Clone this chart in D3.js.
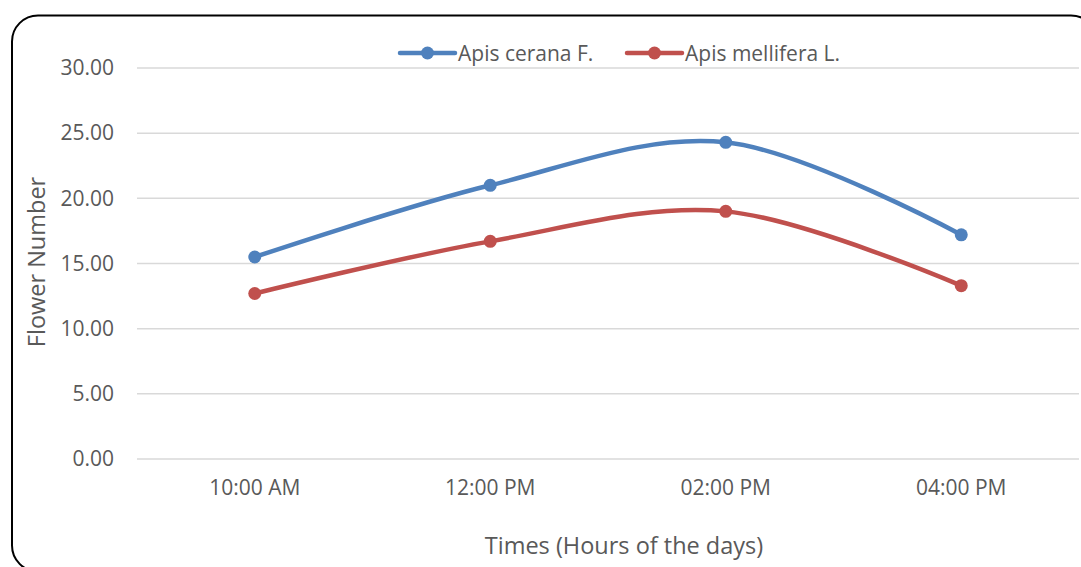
<!DOCTYPE html>
<html>
<head>
<meta charset="utf-8">
<script src="https://cdn.jsdelivr.net/npm/d3@7"></script>
<style>
  body { margin: 0; background: #fff; }
  svg { display: block; font-family: "Open Sans", sans-serif; }
</style>
</head>
<body>
<div id="chart"></div>
<script>
const times = ["10:00 AM", "12:00 PM", "02:00 PM", "04:00 PM"];
const ceranaValues = [15.5, 21.0, 24.3, 17.2];
const melliferaValues = [12.7, 16.7, 19.0, 13.3];
const yTicks = [0, 5, 10, 15, 20, 25, 30];
const seriesNames = ["Apis cerana F.", "Apis mellifera L."];
const seriesColors = ["#4f81bd", "#c0504d"];

const width = 1081, height = 567;
const margin = { left: 137, right: 2, top: 68, bottom: 108 };
const fontFam = "'Open Sans', sans-serif";

const svg = d3.select("#chart").append("svg")
    .attr("width", width)
    .attr("height", height);

/* chart border, cut off at right and bottom like the original */
svg.append("rect")
    .attr("x", 12).attr("y", 15.5)
    .attr("width", 1085).attr("height", 556)
    .attr("rx", 26)
    .attr("fill", "#fff")
    .attr("stroke", "#000")
    .attr("stroke-width", 2);

const x = d3.scaleBand()
    .domain(times)
    .range([margin.left, width - margin.right]);

const y = d3.scaleLinear()
    .domain([0, 30])
    .range([height - margin.bottom, margin.top]);

/* gridlines */
svg.append("g")
    .selectAll("line").data(yTicks).enter()
    .append("line")
    .attr("x1", margin.left)
    .attr("x2", width - margin.right)
    .attr("y1", d => y(d))
    .attr("y2", d => y(d))
    .attr("stroke", "#d9d9d9")
    .attr("stroke-width", 1.5);

/* y axis labels */
const yAxis = d3.axisLeft(y)
    .tickValues(yTicks)
    .tickFormat(d3.format(".2f"))
    .tickSize(0)
    .tickPadding(23);
const yAxisG = svg.append("g")
    .attr("transform", "translate(" + margin.left + ",0)")
    .call(yAxis);
yAxisG.select(".domain").remove();
yAxisG.selectAll("text")
    .attr("font-size", 21)
    .attr("font-family", fontFam)
    .attr("fill", "#595959");

/* x axis labels */
const xAxis = d3.axisBottom(x).tickSize(0).tickPadding(21);
const xAxisG = svg.append("g")
    .attr("transform", "translate(0," + y(0) + ")")
    .call(xAxis);
xAxisG.select(".domain").remove();
xAxisG.selectAll("text")
    .attr("font-size", 21)
    .attr("font-family", fontFam)
    .attr("fill", "#595959");

/* axis titles */
svg.append("text")
    .attr("x", 624).attr("y", 554)
    .attr("text-anchor", "middle")
    .attr("font-size", 23.5)
    .attr("fill", "#595959")
    .text("Times (Hours of the days)");
svg.append("text")
    .attr("transform", "translate(45,262) rotate(-90)")
    .attr("text-anchor", "middle")
    .attr("font-size", 23.5)
    .attr("fill", "#595959")
    .text("Flower Number");

/* series */
const series = [ceranaValues, melliferaValues];
const cx = d => x(d) + x.bandwidth() / 2;
const line = d3.line()
    .x((d, i) => cx(times[i]))
    .y(d => y(d))
    .curve(d3.curveCardinal.tension(0));

series.forEach((vals, s) => {
    svg.append("path")
        .datum(vals)
        .attr("d", line)
        .attr("fill", "none")
        .attr("stroke", seriesColors[s])
        .attr("stroke-width", 4.5)
        .attr("stroke-linecap", "round");
    svg.append("g")
        .selectAll("circle").data(vals).enter()
        .append("circle")
        .attr("cx", (d, i) => cx(times[i]))
        .attr("cy", d => y(d))
        .attr("r", 6.5)
        .attr("fill", seriesColors[s]);
});

/* legend */
const legendX = [400, 627];
seriesNames.forEach((name, s) => {
    const g = svg.append("g").attr("transform", "translate(" + legendX[s] + ",53)");
    g.append("line")
        .attr("x1", 0).attr("x2", 55)
        .attr("stroke", seriesColors[s])
        .attr("stroke-width", 4.5)
        .attr("stroke-linecap", "round");
    g.append("circle")
        .attr("cx", 27.5).attr("r", 6.5)
        .attr("fill", seriesColors[s]);
    g.append("text")
        .attr("x", 58).attr("y", 7.5)
        .attr("font-size", 21)
        .attr("fill", "#595959")
        .text(name);
});
</script>
</body>
</html>
